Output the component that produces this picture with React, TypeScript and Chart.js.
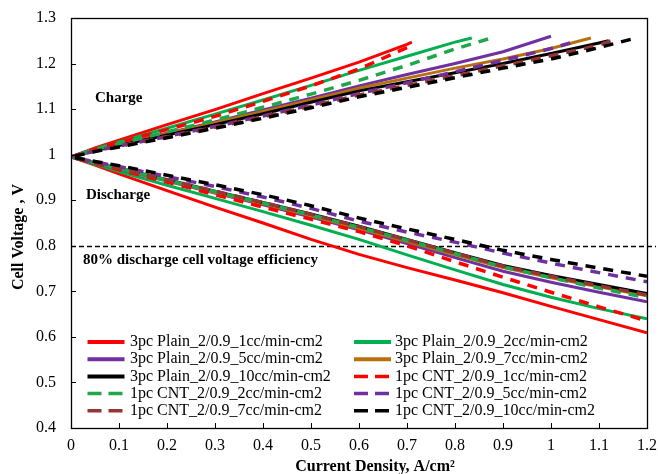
import React, { useEffect, useRef } from 'react';
import { Chart, registerables } from 'chart.js';

Chart.register(...registerables);

// ---------- data ----------
const X_TICKS = ['0', '0.1', '0.2', '0.3', '0.4', '0.5', '0.6', '0.7', '0.8', '0.9', '1', '1.1', '1.2'];
const Y_TICKS = ['0.4', '0.5', '0.6', '0.7', '0.8', '0.9', '1', '1.1', '1.2', '1.3'];

const SERIES_LABELS = [
  '3pc Plain_2/0.9_1cc/min-cm2',
  '3pc Plain_2/0.9_2cc/min-cm2',
  '3pc Plain_2/0.9_5cc/min-cm2',
  '3pc Plain_2/0.9_7cc/min-cm2',
  '3pc Plain_2/0.9_10cc/min-cm2',
  '1pc CNT_2/0.9_1cc/min-cm2',
  '1pc CNT_2/0.9_2cc/min-cm2',
  '1pc CNT_2/0.9_5cc/min-cm2',
  '1pc CNT_2/0.9_7cc/min-cm2',
  '1pc CNT_2/0.9_10cc/min-cm2',
];
const SERIES_COLORS = ['#FF0000', '#00B050', '#7030A0', '#B8700F', '#000000', '#FF0000', '#1FA84A', '#7030A0', '#943634', '#000000'];
const SERIES_DASHED = [false, false, false, false, false, true, true, true, true, true];

// charge branch: current density grid (A/cm2) and cell voltage (V)
const CHARGE_X = [0, 0.05, 0.1, 0.2, 0.3, 0.4, 0.5, 0.6, 0.7, 0.8, 0.9, 1.0, 1.1];
const CHG_3PC_1CC = [0.995, 1.015, 1.032, 1.066, 1.099, 1.134, 1.168, 1.203, 1.242];
const CHG_3PC_2CC = [0.995, 1.013, 1.028, 1.058, 1.089, 1.12, 1.152, 1.185, 1.216, 1.247];
const CHG_3PC_5CC = [0.995, 1.01, 1.022, 1.047, 1.072, 1.098, 1.124, 1.151, 1.176, 1.2, 1.226];
const CHG_3PC_7CC = [0.995, 1.01, 1.021, 1.046, 1.07, 1.095, 1.12, 1.146, 1.168, 1.19, 1.21, 1.233];
const CHG_3PC_10CC = [0.995, 1.009, 1.02, 1.043, 1.066, 1.09, 1.115, 1.14, 1.16, 1.18, 1.2, 1.222, 1.245];
const CHG_1PC_1CC = [0.995, 1.012, 1.027, 1.055, 1.084, 1.117, 1.151, 1.188];
const CHG_1PC_2CC = [0.995, 1.011, 1.024, 1.05, 1.076, 1.104, 1.133, 1.163, 1.196, 1.232];
const CHG_1PC_5CC = [0.995, 1.008, 1.019, 1.04, 1.062, 1.085, 1.109, 1.134, 1.158, 1.182, 1.207, 1.233];
const CHG_1PC_7CC = [0.995, 1.008, 1.018, 1.039, 1.06, 1.083, 1.106, 1.131, 1.152, 1.173, 1.195, 1.217, 1.24];
const CHG_1PC_10CC = [0.995, 1.007, 1.017, 1.037, 1.058, 1.08, 1.103, 1.127, 1.148, 1.169, 1.19, 1.21, 1.235];
const CHARGE_END_X = [0.71, 0.835, 1.0, 1.083, 1.12, 0.7, 0.869, 1.04, 1.124, 1.166];
const CHARGE_END_V = [1.247, 1.256, 1.26, 1.256, 1.25, 1.235, 1.254, 1.245, 1.25, 1.253];

// discharge branch
const DISCHARGE_X = [0, 0.05, 0.1, 0.2, 0.3, 0.4, 0.5, 0.6, 0.7, 0.8, 0.9, 1.0, 1.1, 1.2];
const DIS_3PC_1CC = [0.995, 0.977, 0.958, 0.921, 0.885, 0.85, 0.814, 0.781, 0.752, 0.725, 0.697, 0.667, 0.638, 0.609];
const DIS_3PC_2CC = [0.995, 0.979, 0.963, 0.933, 0.904, 0.875, 0.845, 0.814, 0.78, 0.747, 0.715, 0.687, 0.662, 0.64];
const DIS_3PC_5CC = [0.995, 0.981, 0.968, 0.942, 0.916, 0.89, 0.863, 0.835, 0.805, 0.774, 0.744, 0.72, 0.698, 0.677];
const DIS_3PC_7CC = [0.995, 0.982, 0.969, 0.943, 0.917, 0.892, 0.866, 0.838, 0.809, 0.78, 0.752, 0.73, 0.71, 0.69];
const DIS_3PC_10CC = [0.995, 0.982, 0.97, 0.945, 0.92, 0.895, 0.87, 0.843, 0.814, 0.785, 0.757, 0.735, 0.715, 0.695];
const DIS_1PC_1CC = [0.995, 0.981, 0.967, 0.94, 0.912, 0.885, 0.858, 0.831, 0.8, 0.765, 0.731, 0.698, 0.666, 0.635];
const DIS_1PC_2CC = [0.995, 0.982, 0.97, 0.944, 0.919, 0.894, 0.868, 0.841, 0.812, 0.783, 0.754, 0.73, 0.707, 0.686];
const DIS_1PC_5CC = [0.995, 0.984, 0.974, 0.952, 0.93, 0.907, 0.882, 0.854, 0.83, 0.808, 0.784, 0.762, 0.741, 0.721];
const DIS_1PC_7CC = [0.995, 0.982, 0.97, 0.945, 0.92, 0.895, 0.869, 0.842, 0.813, 0.784, 0.755, 0.733, 0.712, 0.692];
const DIS_1PC_10CC = [0.995, 0.985, 0.976, 0.955, 0.934, 0.912, 0.888, 0.861, 0.837, 0.814, 0.79, 0.77, 0.751, 0.733];

const CHARGE_V = [CHG_3PC_1CC, CHG_3PC_2CC, CHG_3PC_5CC, CHG_3PC_7CC, CHG_3PC_10CC, CHG_1PC_1CC, CHG_1PC_2CC, CHG_1PC_5CC, CHG_1PC_7CC, CHG_1PC_10CC];
const DISCHARGE_V = [DIS_3PC_1CC, DIS_3PC_2CC, DIS_3PC_5CC, DIS_3PC_7CC, DIS_3PC_10CC, DIS_1PC_1CC, DIS_1PC_2CC, DIS_1PC_5CC, DIS_1PC_7CC, DIS_1PC_10CC];

const EFFICIENCY_V = 0.8;
const ANNOTATIONS = ['Charge', 'Discharge', '80% discharge cell voltage efficiency'];
const X_TITLE = 'Current Density, A/cm²';
const Y_TITLE = 'Cell Voltage , V';

// ---------- styling ----------
const SERIF = "'Liberation Serif', 'Times New Roman', serif";
const SOLID_W = 3;
const DASH_W = 3.5;
const DASH = [10, 8];

function buildPoints(i: number) {
  const pts: { x: number; y: number }[] = [];
  pts.push({ x: CHARGE_END_X[i], y: CHARGE_END_V[i] });
  const cv = CHARGE_V[i];
  for (let k = cv.length - 1; k >= 0; k--) pts.push({ x: CHARGE_X[k], y: cv[k] });
  const dv = DISCHARGE_V[i];
  for (let k = 1; k < dv.length; k++) pts.push({ x: DISCHARGE_X[k], y: dv[k] });
  return pts;
}

const decorPlugin = {
  id: 'decor',
  beforeDatasetsDraw(chart: any) {
    const { ctx, chartArea, scales } = chart;
    const y = Math.round(scales.y.getPixelForValue(EFFICIENCY_V)) + 0.5;
    ctx.save();
    ctx.strokeStyle = '#000';
    ctx.lineWidth = 1.6;
    ctx.setLineDash([5, 3]);
    ctx.beginPath();
    ctx.moveTo(chartArea.left, y);
    ctx.lineTo(chartArea.right + 9, y);
    ctx.stroke();
    ctx.restore();
  },
  afterDraw(chart: any) {
    const { ctx, chartArea, scales } = chart;
    const { left, right, top, bottom } = chartArea;
    ctx.save();
    // frame
    ctx.strokeStyle = '#000';
    ctx.lineWidth = 1.3;
    ctx.setLineDash([]);
    ctx.strokeRect(left + 0.5, top + 0.5, right - left, bottom - top);
    // inside ticks
    ctx.lineWidth = 1;
    ctx.beginPath();
    for (let i = 0; i < Y_TICKS.length; i++) {
      const py = Math.round(scales.y.getPixelForValue(parseFloat(Y_TICKS[i]))) + 0.5;
      ctx.moveTo(left, py);
      ctx.lineTo(left + 5, py);
    }
    for (let i = 0; i < X_TICKS.length; i++) {
      const px = Math.round(scales.x.getPixelForValue(parseFloat(X_TICKS[i]))) + 0.5;
      ctx.moveTo(px, bottom);
      ctx.lineTo(px, bottom - 5);
    }
    ctx.stroke();

    // tick labels
    ctx.fillStyle = '#000';
    ctx.font = `16px ${SERIF}`;
    ctx.textBaseline = 'middle';
    ctx.textAlign = 'right';
    for (let i = 0; i < Y_TICKS.length; i++) {
      const py = scales.y.getPixelForValue(parseFloat(Y_TICKS[i]));
      ctx.fillText(Y_TICKS[i], left - 15, py);
    }
    ctx.textAlign = 'center';
    for (let i = 0; i < X_TICKS.length; i++) {
      const px = scales.x.getPixelForValue(parseFloat(X_TICKS[i]));
      ctx.fillText(X_TICKS[i], px, bottom + 18);
    }

    // axis titles
    ctx.font = `bold 16px ${SERIF}`;
    ctx.textAlign = 'center';
    ctx.fillText(X_TITLE, 375, 467);
    ctx.save();
    ctx.translate(19, 237);
    ctx.rotate(-Math.PI / 2);
    ctx.fillText(Y_TITLE, 0, 0);
    ctx.restore();

    // annotations
    ctx.textAlign = 'left';
    ctx.font = `bold 15px ${SERIF}`;
    ctx.fillText(ANNOTATIONS[0], 95, 98);
    ctx.fillText(ANNOTATIONS[1], 86, 195);
    ctx.fillText(ANNOTATIONS[2], 83, 260);

    // legend
    ctx.font = `16px ${SERIF}`;
    const colLine = [87.5, 354];
    const colText = [130, 395];
    const lineLen = 37;
    for (let i = 0; i < SERIES_LABELS.length; i++) {
      const col = i % 2;
      const row = Math.floor(i / 2);
      const yy = 342 + row * 17.2;
      ctx.strokeStyle = SERIES_COLORS[i];
      ctx.lineCap = 'butt';
      if (SERIES_DASHED[i]) {
        ctx.lineWidth = DASH_W;
        ctx.setLineDash([14, 7]);
      } else {
        ctx.lineWidth = 4;
        ctx.setLineDash([]);
      }
      ctx.beginPath();
      ctx.moveTo(colLine[col], yy);
      ctx.lineTo(colLine[col] + lineLen, yy);
      ctx.stroke();
      ctx.fillStyle = '#000';
      ctx.fillText(SERIES_LABELS[i], colText[col], yy);
    }
    ctx.restore();
  },
};

export default function App() {
  const ref = useRef<HTMLCanvasElement | null>(null);
  useEffect(() => {
    if (!ref.current) return;
    const datasets = SERIES_LABELS.map((label, i) => ({
      label,
      data: buildPoints(i),
      borderColor: SERIES_COLORS[i],
      backgroundColor: SERIES_COLORS[i],
      borderWidth: SERIES_DASHED[i] ? DASH_W : SOLID_W,
      borderDash: SERIES_DASHED[i] ? DASH : [],
      borderCapStyle: 'butt' as const,
      pointRadius: 0,
      tension: 0,
      fill: false,
      order: -i,
    }));
    const chart = new Chart(ref.current, {
      type: 'line',
      data: { datasets },
      options: {
        responsive: false,
        animation: false,
        devicePixelRatio: 1,
        parsing: false as any,
        layout: { autoPadding: false, padding: { left: 0, right: 11, top: 18, bottom: 0 } },
        plugins: { legend: { display: false }, tooltip: { enabled: false } },
        scales: {
          x: {
            type: 'linear',
            min: 0,
            max: 1.2,
            grid: { display: false, drawTicks: false },
            border: { display: false },
            ticks: { display: false, stepSize: 0.1, padding: 0 },
            title: { display: false },
            afterFit: (s: any) => { s.height = 46; },
          },
          y: {
            type: 'linear',
            min: 0.4,
            max: 1.3,
            grid: { display: false, drawTicks: false },
            border: { display: false },
            ticks: { display: false, stepSize: 0.1, padding: 0 },
            title: { display: false },
            afterFit: (s: any) => { s.width = 71; },
          },
        },
      } as any,
      plugins: [decorPlugin],
    });
    return () => chart.destroy();
  }, []);
  return (
    <div style={{ position: 'absolute', left: 0, top: 0, width: 658, height: 474, background: '#fff' }}>
      <canvas ref={ref} width={658} height={474} style={{ width: 658, height: 474 }} />
    </div>
  );
}
